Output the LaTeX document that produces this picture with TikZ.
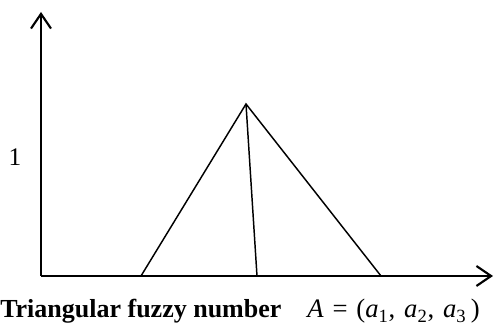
\documentclass[tikz,border=0pt]{standalone}
\usepackage{amsmath,amssymb}
\usepackage{fontspec}
\setmainfont{Liberation Serif}
\usepackage{tikz}
\usetikzlibrary{arrows.meta,positioning}

\begin{document}
\begin{tikzpicture}[x=0.75pt, y=0.75pt,
    axis/.style={line width=1.6pt, -{Straight Barb[length=11pt,width=15pt,line width=1.6pt]}},
    side/.style={line width=1.1pt},
    lbl/.style={inner sep=0pt, font=\fontsize{19}{22}\selectfont}]
    \useasboundingbox (0,0) rectangle (494,327);
    % Points
    \coordinate (O) at (41,51);
    \coordinate (ytip) at (41,315);
    \coordinate (xtip) at (493,51);
    \coordinate (apex) at (246,223);
    \coordinate (a1) at (141,51);
    \coordinate (a2) at (257,51);
    \coordinate (a3) at (381,51);

    % Axes
    \draw[axis] (O) -- (ytip);
    \draw[axis] (O) -- (xtip);

    % Triangle
    \draw[side] (a1) -- (apex) -- (a3);
    \draw[side] (apex) -- (a2);

    % Labels
    \node[lbl] (one) at (15,170) {1};
    \node[lbl, font=\fontsize{19.5}{22}\selectfont\bfseries, anchor=base west] (name) at (0,9) {Triangular fuzzy number};
    \node[lbl, font=\fontsize{20}{22}\selectfont, anchor=base west] (formula) at (307,9)
        {\itshape A\/\upshape\,\,=\,\,(\itshape a\upshape\textsubscript{1},\,\,\itshape a\upshape\textsubscript{2},\,\,\itshape a\upshape\textsubscript{3}\,)};
\end{tikzpicture}
\end{document}
